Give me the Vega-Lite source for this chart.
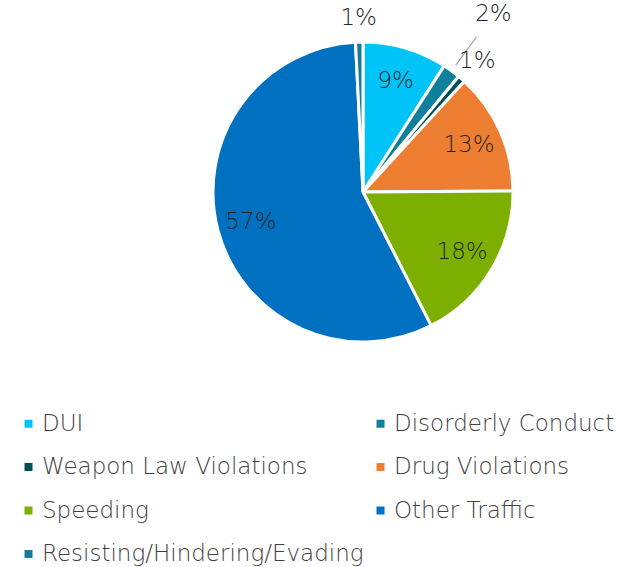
{
  "$schema": "https://vega.github.io/schema/vega-lite/v6.json",
  "width": 510,
  "height": 384,
  "autosize": "none",
  "padding": {"left": 108, "top": 0, "right": 0, "bottom": 183},
  "background": "white",
  "config": {"view": {"stroke": null}},
  "data": {
    "values": [
      {"category": "DUI", "share": 0.091, "order": 1},
      {"category": "Disorderly Conduct", "share": 0.019, "order": 2},
      {"category": "Weapon Law Violations", "share": 0.008, "order": 3},
      {"category": "Drug Violations", "share": 0.131, "order": 4},
      {"category": "Speeding", "share": 0.176, "order": 5},
      {"category": "Other Traffic", "share": 0.567, "order": 6},
      {"category": "Resisting/Hindering/Evading", "share": 0.008, "order": 7}
    ]
  },
  "encoding": {
    "theta": {"field": "share", "type": "quantitative", "stack": true},
    "order": {"field": "order", "type": "quantitative"}
  },
  "layer": [
    {
      "mark": {"type": "arc", "outerRadius": 150, "stroke": "white", "strokeWidth": 3},
      "encoding": {
        "color": {
          "field": "category",
          "type": "nominal",
          "scale": {
            "domain": ["DUI", "Weapon Law Violations", "Speeding", "Resisting/Hindering/Evading", "Disorderly Conduct", "Drug Violations", "Other Traffic"],
            "range": ["#00C3F7", "#014F56", "#7DAF00", "#19799B", "#0F7F9B", "#ED7D31", "#0070C0"]
          },
          "legend": {
            "title": null,
            "orient": "none",
            "legendX": -91,
            "legendY": 412,
            "columns": 2,
            "padding": 0,
            "columnPadding": 5,
            "rowPadding": 19.5,
            "symbolType": "square",
            "symbolSize": 64,
            "symbolStrokeWidth": 0,
            "labelFont": "DejaVu Sans",
            "labelFontSize": 23,
            "labelFontWeight": 200,
            "labelColor": "#404040",
            "labelOffset": 2,
            "labelLimit": 400
          }
        }
      }
    },
    {
      "mark": {"type": "arc", "innerRadius": 157, "outerRadius": 192, "padAngle": 1, "fillOpacity": 0, "stroke": "#A6A6A6", "strokeWidth": 1.3},
      "encoding": {
        "strokeOpacity": {"condition": {"test": "datum.category === 'Disorderly Conduct'", "value": 1}, "value": 0}
      }
    },
    {
      "mark": {"type": "text", "radius": 116, "font": "DejaVu Sans", "fontSize": 23, "fontWeight": 200, "color": "#262626"},
      "encoding": {
        "text": {"condition": {"test": "datum.share >= 0.05", "field": "share", "type": "quantitative", "format": ".0%"}, "value": ""}
      }
    },
    {
      "mark": {"type": "text", "radius": 174, "font": "DejaVu Sans", "fontSize": 23, "fontWeight": 200, "color": "#262626"},
      "encoding": {
        "text": {"condition": {"test": "datum.share < 0.012", "field": "share", "type": "quantitative", "format": ".0%"}, "value": ""}
      }
    },
    {
      "mark": {"type": "text", "radius": 221, "font": "DejaVu Sans", "fontSize": 23, "fontWeight": 200, "color": "#262626"},
      "encoding": {
        "text": {"condition": {"test": "datum.category === 'Disorderly Conduct'", "field": "share", "type": "quantitative", "format": ".0%"}, "value": ""}
      }
    }
  ]
}
